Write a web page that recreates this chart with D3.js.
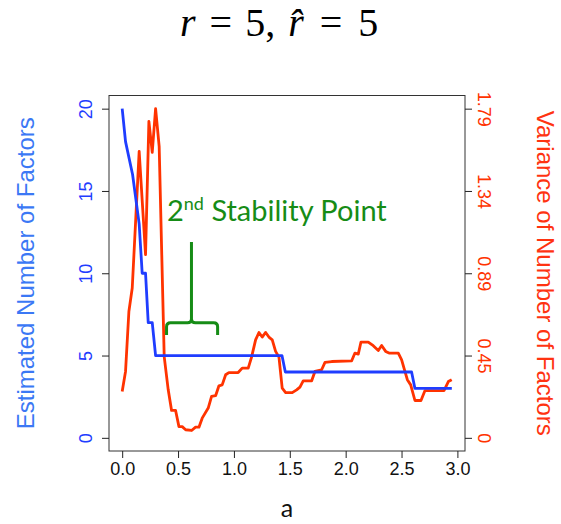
<!DOCTYPE html>
<html>
<head>
<meta charset="utf-8">
<script src="https://cdn.jsdelivr.net/npm/d3@7"></script>
<style>
  body { margin: 0; background: #fff; }
  svg { display: block; }
</style>
</head>
<body>
<svg id="chart" width="561" height="524"></svg>
<script>
// estimated number of factors (blue, left axis)
const factorA = [0, 0.03, 0.093, 0.152, 0.179, 0.209, 0.233, 0.269, 0.299, 1.43, 1.46, 2.59, 2.62, 2.95];
const factorN = [20, 18, 16, 13, 10, 10, 7, 7, 5, 5, 4, 4, 3, 3];

// variance of number of factors (red, right axis)
const varA = [0, 0.03, 0.06, 0.09, 0.152, 0.209, 0.239, 0.269, 0.299, 0.331, 0.376, 0.412, 0.442, 0.478,
  0.508, 0.537, 0.568, 0.621, 0.657, 0.687, 0.716, 0.77, 0.8, 0.836, 0.866, 0.895, 0.926, 0.955, 1.038,
  1.074, 1.128, 1.158, 1.194, 1.224, 1.253, 1.284, 1.313, 1.343, 1.373, 1.403, 1.432, 1.463, 1.522,
  1.561, 1.591, 1.62, 1.696, 1.725, 1.785, 1.815, 1.875, 2.054, 2.083, 2.113, 2.137, 2.202, 2.247,
  2.292, 2.322, 2.358, 2.388, 2.471, 2.501, 2.522, 2.552, 2.582, 2.62, 2.674, 2.71, 2.88, 2.919, 2.949];
const varV = [0.252, 0.361, 0.687, 0.815, 1.558, 0.996, 1.721, 1.552, 1.79, 1.585, 0.442, 0.261, 0.149, 0.149,
  0.061, 0.061, 0.044, 0.04, 0.058, 0.058, 0.107, 0.162, 0.225, 0.229, 0.283, 0.288, 0.343, 0.355, 0.355,
  0.379, 0.379, 0.439, 0.533, 0.573, 0.548, 0.573, 0.548, 0.533, 0.47, 0.439, 0.27, 0.246, 0.246,
  0.261, 0.276, 0.31, 0.31, 0.361, 0.37, 0.41, 0.415, 0.419, 0.461, 0.455, 0.521, 0.521, 0.501,
  0.475, 0.502, 0.47, 0.461, 0.461, 0.424, 0.379, 0.316, 0.288, 0.203, 0.203, 0.257, 0.257, 0.306, 0.316];

const xTicks = [0, 0.5, 1, 1.5, 2, 2.5, 3];
const leftTicks = [0, 5, 10, 15, 20];
const varMax = 1.79;
const rightTicks = [0, 0.25, 0.5, 0.75, 1].map(f => f * varMax);
const rightLabels = ['0', '0.45', '0.89', '1.34', '1.79'];

// bracket for the annotation, in data units (a, factors)
const bracketA = [0.397, 0.62, 0.854];
const bracketN = [6.25, 7.0, 11.9];

const svg = d3.select('#chart');
const plotL = 109, plotR = 465, plotT = 95.5, plotB = 451;

const x = d3.scaleLinear().domain([-0.118, 3.068]).range([plotL, plotR]);
const y = d3.scaleLinear().domain([-0.8, 20.8]).range([plotB, plotT]);
const y2 = d3.scaleLinear().domain([-0.04 * varMax, 1.04 * varMax]).range([plotB, plotT]);

const sans = "'Liberation Sans', Arial, sans-serif";
const serif = "'Liberation Serif', 'DejaVu Serif', serif";
const blue = '#1f3dff';
const red = '#ff3300';
const green = '#168c16';

// red variance line
svg.append('path')
  .datum(d3.zip(varA, varV))
  .attr('fill', 'none')
  .attr('stroke', red)
  .attr('stroke-width', 2.8)
  .attr('stroke-linejoin', 'round')
  .attr('d', d3.line().x(d => x(d[0])).y(d => y2(d[1])));

// blue estimated-factors line
svg.append('path')
  .datum(d3.zip(factorA, factorN))
  .attr('fill', 'none')
  .attr('stroke', blue)
  .attr('stroke-width', 2.8)
  .attr('stroke-linejoin', 'round')
  .attr('d', d3.line().x(d => x(d[0])).y(d => y(d[1])));

// frame
svg.append('rect')
  .attr('x', plotL).attr('y', plotT)
  .attr('width', plotR - plotL).attr('height', plotB - plotT)
  .attr('fill', 'none').attr('stroke', '#333').attr('stroke-width', 1);

// axes
const bx = svg.append('g').attr('transform', `translate(0,${plotB})`)
  .call(d3.axisBottom(x).tickValues(xTicks).tickFormat(d3.format('.1f')).tickSize(7).tickPadding(4));
const by = svg.append('g').attr('transform', `translate(${plotL},0)`)
  .call(d3.axisLeft(y).tickValues(leftTicks).tickSize(7).tickPadding(0));
const by2 = svg.append('g').attr('transform', `translate(${plotR},0)`)
  .call(d3.axisRight(y2).tickValues(rightTicks).tickFormat((d, i) => rightLabels[i]).tickSize(7).tickPadding(0));

[bx, by, by2].forEach(g => {
  g.attr('font-family', sans).attr('font-size', 18);
  g.select('.domain').remove();
  g.selectAll('.tick line').attr('stroke', '#222');
});
bx.selectAll('.tick text').attr('fill', '#111');
by.selectAll('.tick text')
  .attr('fill', blue)
  .attr('x', null)
  .attr('text-anchor', 'middle')
  .attr('transform', 'translate(-17,0) rotate(-90)')
  .attr('dy', '0em');
by2.selectAll('.tick text')
  .attr('fill', red)
  .attr('x', null)
  .attr('text-anchor', 'middle')
  .attr('transform', 'translate(13,0) rotate(90)')
  .attr('dy', '0em');

// axis titles
svg.append('text')
  .attr('transform', `translate(34,${(plotT + plotB) / 2}) rotate(-90)`)
  .attr('text-anchor', 'middle')
  .attr('font-family', sans).attr('font-size', 24)
  .attr('fill', '#3b78f5')
  .text('Estimated Number of Factors');

svg.append('text')
  .attr('transform', `translate(537,${(plotT + plotB) / 2}) rotate(90)`)
  .attr('text-anchor', 'middle')
  .attr('font-family', sans).attr('font-size', 24)
  .attr('fill', '#ff3311')
  .text('Variance of Number of Factors');

svg.append('text')
  .attr('x', 287).attr('y', 517)
  .attr('text-anchor', 'middle')
  .attr('font-family', "Lato, 'Open Sans', sans-serif").attr('font-size', 25)
  .attr('fill', '#111')
  .text('a');

// title, math-style spacing via dx on each piece
const title = svg.append('text')
  .attr('x', 180).attr('y', 36)
  .attr('font-family', serif)
  .attr('font-size', 40)
  .attr('fill', '#000');
title.append('tspan').attr('font-style', 'italic').text('r');
title.append('tspan').attr('dx', 14).text('=');
title.append('tspan').attr('dx', 13).text('5,');
title.append('tspan').attr('dx', 13).attr('font-style', 'italic').text('r\u0302');
title.append('tspan').attr('dx', 16).text('=');
title.append('tspan').attr('dx', 16).text('5');

// annotation
const note = svg.append('text')
  .attr('x', 167).attr('y', 221)
  .attr('font-family', "Lato, 'Open Sans', sans-serif").attr('font-size', 29)
  .attr('fill', green);
note.append('tspan').text('2');
note.append('tspan').attr('font-size', 18).attr('dy', -11).text('nd');
note.append('tspan').attr('dy', 11).text(' Stability Point');

const [a0, aMid, a1] = bracketA;
const [nEnd, nBar, nTop] = bracketN;
const bracket = d3.path();
bracket.moveTo(x(a0), y(nEnd));
bracket.lineTo(x(a0), y(nBar) + 4);
bracket.quadraticCurveTo(x(a0), y(nBar), x(a0) + 4, y(nBar));
bracket.lineTo(x(aMid) - 4, y(nBar));
bracket.quadraticCurveTo(x(aMid), y(nBar), x(aMid), y(nBar) - 4);
bracket.lineTo(x(aMid), y(nTop));
bracket.moveTo(x(aMid), y(nBar) - 4);
bracket.quadraticCurveTo(x(aMid), y(nBar), x(aMid) + 4, y(nBar));
bracket.lineTo(x(a1) - 4, y(nBar));
bracket.quadraticCurveTo(x(a1), y(nBar), x(a1), y(nBar) + 4);
bracket.lineTo(x(a1), y(nEnd));
svg.append('path')
  .attr('d', bracket.toString())
  .attr('fill', 'none')
  .attr('stroke', green)
  .attr('stroke-width', 3);
</script>
</body>
</html>
